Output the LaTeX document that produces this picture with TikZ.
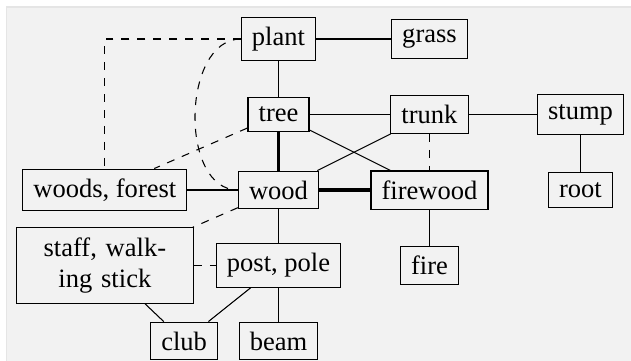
\documentclass[tikz,border=0pt]{standalone}
\usepackage{fontspec}
\setmainfont{Liberation Serif}
\usetikzlibrary{positioning}

\begin{document}
\begin{tikzpicture}[
        word/.style={draw, rectangle, inner xsep=4pt, inner ysep=3.6pt},
        line/.style={-},
        strong/.style={-, very thick},
        loose/.style={-, dashed},
        node distance=1cm and 2cm, on grid
    ]
        % Frame
        \useasboundingbox (-3.689,0.517) rectangle (4.669,-4.252);
        \fill[black!5] (-3.609,0.424) rectangle (4.8,-4.4);
        \draw[black!10] (-3.609,-4.4) -- (-3.609,0.424) -- (4.8,0.424);

        % Top rows
        \node[word] (plant) at (0,0) {plant};
        \node[word, right=of plant] (grass) {grass};
        \node[word, below=of plant] (tree) {tree};
        \node[word, right=of tree] (trunk) {trunk};
        \node[word, right=of trunk] (stump) {stump};

        % Middle row
        \node[word, below=of tree] (wood) {wood};
        \node[word, left=2.3cm of wood] (woods) {woods, forest};
        \node[word, right=of wood] (firewood) {firewood};
        \node[word, right=of firewood] (root) {root};

        % Lower rows
        \node[word, below=of wood] (post) {post, pole};
        \node[word, left=2.3cm of post, text width=58.7pt, align=center] (staff) {staff, walk-\\ing stick};
        \node[word, below=of firewood] (fire) {fire};
        \node[word, below=of post] (beam) {beam};
        \node[word, left=1.25cm of beam] (club) {club};

        \draw[line] (plant) -- (grass);
        \draw[line] (plant) -- (tree);
        \draw[line] (tree) -- (trunk);
        \draw[line] (trunk) -- (stump);
        \draw[line] (stump) -- (root);
        \draw[line] (tree) -- (firewood);
        \draw[line] (trunk) -- (wood);
        \draw[line] (woods) -- (wood);
        \draw[line] (wood) -- (post);
        \draw[line] (firewood) -- (fire);
        \draw[line] (post) -- (beam);
        \draw[line] (post) -- (club);
        \draw[line] (staff) -- (club);

        \draw[strong] (tree) -- (wood);
        \draw[strong] (wood) -- (firewood);

        \draw[loose] (plant) -| (woods);
        \draw[loose] (plant) to[out=180, in=180] (wood);
        \draw[loose] (tree) -- (woods);
        \draw[loose] (trunk) -- (firewood);
        \draw[loose] (wood) -- (staff);
        \draw[loose] (staff) -- (post);
    \end{tikzpicture}
\end{document}
